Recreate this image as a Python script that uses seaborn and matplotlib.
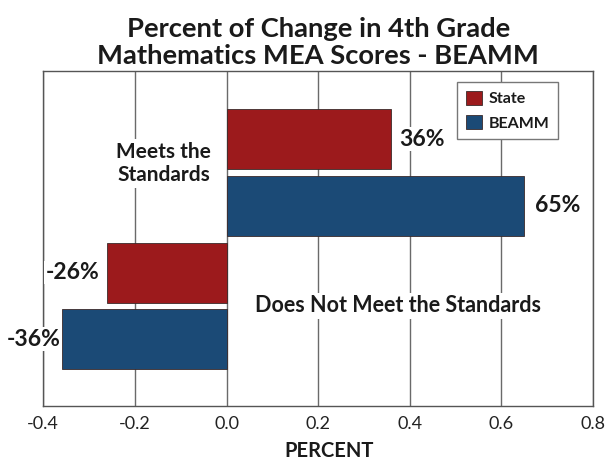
import matplotlib
matplotlib.use("Agg")
import matplotlib.pyplot as plt
import seaborn as sns
import pandas as pd

categories = ["Meets the\nStandards", "Does Not Meet the Standards"]
groups = ["State", "BEAMM"]
state_values = [0.36, -0.26]
beamm_values = [0.65, -0.36]
title = "Percent of Change in 4th Grade\nMathematics MEA Scores - BEAMM"
xlabel = "PERCENT"
xticks = [-0.4, -0.2, 0.0, 0.2, 0.4, 0.6, 0.8]

df = pd.DataFrame({
    "Category": categories * 2,
    "Group": [groups[0]] * 2 + [groups[1]] * 2,
    "Value": state_values + beamm_values,
})

sns.set_theme(style="white")
plt.rcParams["font.family"] = ["Lato", "DejaVu Sans"]

W, H = 607, 463
fig = plt.figure(figsize=(W / 100, H / 100), dpi=100)
ax = fig.add_axes([43.3 / W, 1 - 406 / H, (593 - 43.3) / W, (406 - 70.5) / H])

palette = {"State": "#9c1a1c", "BEAMM": "#1b4a76"}
sns.barplot(data=df, x="Value", y="Category", hue="Group", hue_order=groups,
            order=categories, orient="h", palette=palette, width=1.0, gap=0.1,
            edgecolor="#3a2a2a", linewidth=0.6, saturation=1, ax=ax, zorder=3,
            legend=True)

ax.set_xlim(-0.4, 0.8)
ax.set_ylim(1.75, -0.765)
ax.set_xticks(xticks)
ax.set_xticklabels([f"{t:.1f}" for t in xticks], fontsize=13, color="#222222")
ax.tick_params(axis="x", length=0, pad=7)
ax.set_yticks([])
ax.set_ylabel("")
ax.grid(axis="x", color="#6a6a6a", linewidth=1.0, zorder=0)
ax.set_axisbelow(True)
for s in ax.spines.values():
    s.set_color("#555555")
    s.set_linewidth(1.0)

ax.set_title(title, fontsize=19.7, fontweight="bold", color="#1a1a1a",
             linespacing=1.12, pad=5)
ax.set_xlabel(xlabel, fontsize=14.5, fontweight="bold", color="#1a1a1a")
ax.xaxis.set_label_coords(0.52, -0.105)

# value labels
offsets = {("State", 0): 8, ("State", 1): -8, ("BEAMM", 0): 11, ("BEAMM", 1): -1}
for g, cont in zip(groups, ax.containers):
    for i, bar in enumerate(cont):
        v = bar.get_width()
        yc = bar.get_y() + bar.get_height() / 2
        off = offsets[(g, i)]
        ax.annotate(f"{round(v * 100):d}%", xy=(v, yc), xytext=(off * 0.72, 0),
                    textcoords="offset points", ha="left" if v > 0 else "right",
                    va="center", fontsize=16.5, fontweight="bold", color="#1a1a1a",
                    annotation_clip=False, zorder=5,
                    bbox=dict(facecolor="white", edgecolor="none", pad=1))

# category labels
ax.text(-0.137, -0.07, categories[0], ha="center", va="center", fontsize=15,
        fontweight="bold", color="#1a1a1a", linespacing=1.2, zorder=5,
        bbox=dict(facecolor="white", edgecolor="none", pad=2))
ax.text(0.375, 1.0, categories[1], ha="center", va="center", fontsize=15.5,
        fontweight="bold", color="#1a1a1a", zorder=5,
        bbox=dict(facecolor="white", edgecolor="none", pad=2))

leg = ax.legend(loc="upper right", bbox_to_anchor=(0.9363, 0.966), frameon=True,
                fancybox=False, edgecolor="#777777", framealpha=1,
                prop={"weight": "bold", "size": 11.5}, handlelength=1.0,
                handleheight=1.0, handletextpad=0.4, borderpad=0.55,
                labelspacing=0.55, borderaxespad=0)
leg.get_frame().set_linewidth(1.0)
for t in leg.get_texts():
    t.set_color("#1a1a1a")

fig.savefig("out.png", dpi=100)
